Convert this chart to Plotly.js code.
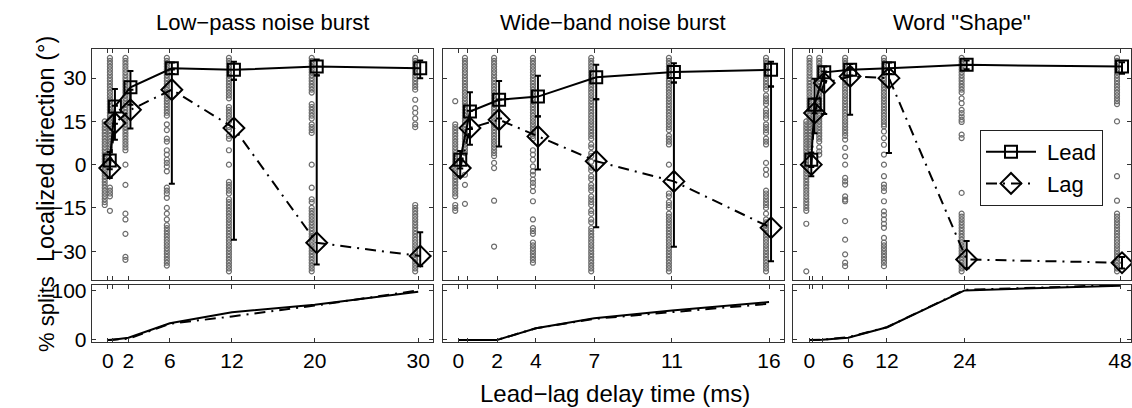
<!DOCTYPE html>
<html><head><meta charset="utf-8">
<script src="https://cdn.plot.ly/plotly-3.0.1.min.js"></script>
<style>html,body{margin:0;padding:0;background:#fff}#g{width:1132px;height:408px}</style>
</head><body><div id="g"></div>
<script>
// ---------- DATA ----------
const titles = ['Low\u2212pass noise burst', 'Wide\u2212band noise burst', 'Word "Shape"'];
const delays1 = [0, 0.5, 2, 6, 12, 20, 30];
const delays2 = [0, 0.5, 2, 4, 7, 11, 16];
const delays3 = [0, 0.5, 2, 6, 12, 24, 48];
const ticktext1 = ['0', '', '2', '6', '12', '20', '30'];
const ticktext2 = ['0', '', '2', '4', '7', '11', '16'];
const ticktext3 = ['0', '', '', '6', '12', '24', '48'];

// individual responses (deg), one list per delay
const p1_c0 = [15,14,13,12,11,10,9,8,7,6,5,4,3,2,1,0,-1,-2,-3,-4,-5,-6,-7,-8,-9,-10,-11,-12,-13,-14];
const p1_c1 = [37,36,35,34,33,32,31,30,29,28,27,26,25,24,23,22,21,20,19,18,17,16,15,14,13,12,11,10,9,8,7,6,5,4,-8,-9,-10,-11,-16];
const p1_c2 = [37,36,35,34,33,32,31,30,29,28,27,26,25,24,23,22,21,20,19,18,17,16,15,14,13,12,11,10,9,8,7,6,5,0,-7,-17,-19,-24,-32,-33];
const p1_c3 = [37,36,35,34,33,32,31,30,29,28,27,26,25,24,23,22,21,20,19,18,17,14,12,9,8,5,3.5,1.7,0.6,-0.6,-2.3,-8,-9,-10,-11.5,-15,-17,-19,-21,-22,-23,-24,-25,-26,-27,-28,-29,-30,-31,-32,-33,-34,-35];
const p1_c4 = [37,36,35,34,33,32,31,30,29,28,27,26,25,24,23,20,19,18,17,16,15,13,12,10,9,5,0,-6,-7,-8,-9,-10,-12,-13,-14,-15,-16,-17,-18,-19,-20,-21,-22,-23,-24,-25,-26,-27,-28,-29,-30,-31,-32,-33,-34,-35,-36,-37];
const p1_c5 = [37,36,35,34,33,32,31,30,29,28,27,26,25,21,20,19,18,17,16,14,13,12,11,0,-8,-12,-13,-15,-16,-17,-18,-19,-20,-21,-22,-23,-24,-25,-26,-27,-28,-29,-30,-31,-32,-33,-34,-35,-36,-37];
const p1_c6 = [37,36,35,34,33,32,31,30,29,28,27,26,22.5,19.6,18,16,14,13,-14,-15,-16,-17,-18,-19,-20,-21,-22,-23,-24,-25,-26,-27,-28,-29,-30,-31,-32,-33,-34,-35,-36,-37];

const p2_c0 = [22,14,13,12,11,10,9,8,7,6,5,4,3,2,1,0,-1,-2,-3,-4,-5,-6,-7,-8,-9,-10,-11,-14,-15,-16];
const p2_c1 = [37,36,35,34,33,32,31,30,29,28,27,26,25,24,23,22,21,20,19,18,17,16,15,14,13,12,11,10,9,8,7,6,5,4,-3.5,-7,-13.6];
const p2_c2 = [37,36,35,34,33,32,31,30,29,28,27,26,25,24,23,22,21,20,19,18,17,16,15,14,13,12,11,10,9,8,7,6,5,4,3,0.6,-1.2,-12.5,-28.4];
const p2_c3 = [37,36,35,34,33,32,31,30,29,28,27,26,25,24,23,22,21,20,19,18,17,16,15,14,13,12,11,10,9,5,3.5,1.7,-0.6,-2.3,-3.5,-5.2,-6.3,-7.5,-9.2,-12.7,-19,-22,-23,-24,-27,-28,-29,-30,-31,-32,-33,-34];
const p2_c4 = [37,36,35,34,33,32,31,30,29,28,27,26,25,24,23,22,21,20,19,18,17,16,15,14,13,12,11,10,9,7,6,4,3,1,-1,-2,-4,-5,-7,-8,-9,-11,-12,-13,-14,-16,-17,-19,-20,-22,-23,-24,-25,-26,-27,-28,-29,-30,-31,-32,-33,-34,-35,-36,-37];
const p2_c5 = [37,36,35,34,33,32,31,30,29,28,27,26,25,24,23,22,21,20,19,18,17,16,15,14,13,12,10,9,8,7,0,-10,-11,-13,-14,-15,-17,-18,-19,-20,-21,-22,-23,-24,-25,-26,-27,-28,-29,-30,-31,-32,-33,-34,-35,-36,-37];
const p2_c6 = [37,36,35,34,33,32,31,30,29,28,27,26,24,23,22,21,19,18,17,16,14,13,12,11,9,8,7,0.6,-1.7,-3.5,-9,-10,-11,-12,-13,-14,-15,-17,-19,-20,-21,-22,-23,-24,-25,-26,-27,-28,-29,-30,-31,-32,-33,-34,-35,-36,-37];

const p3_c0 = [15,14,13,12,11,10,9,8,7,6,5,4,3,2,1,0,-1,-2,-3,-4,-5,-6,-7,-8,-9,-10,-11,-12,-13,-14,-15,-16,-20.5,-37];
const p3_c1 = [37,36,35,34,33,32,31,30,29,28,27,26,25,24,23,22,21,20,19,18,17,16,15,14,13,12,11,10,9,8,7,6,5];
const p3_c2 = [37,36,35,34,33,32,31,30,29,28,27,26,25,24,23,22,21,20,19,18,17,16,15,14,13,12,11,10,9,8,6,4.6,3.5];
const p3_c3 = [37,36,35,34,33,32,31,30,29,28,27,26,25,24,23,22,21,20,19,18,17,16,15,14,13,12,11,10,8.7,5.8,2.9,0,-4.6,-5.8,-6.9,-11,-12.1,-12.7,-19.6,-26,-31.1,-34,-35.2];
const p3_c4 = [37,36,35,34,33,32,31,30,29,28,27,26,25,24,23,22,21,20,19,18,17,16,15,14,13.3,11.5,9.2,6.9,3.5,0,-4,-6.9,-8,-9.2,-12.7,-16.2,-17.5,-19,-20.5,-21.9,-25.4,-27,-28,-29,-30,-31,-32,-33,-34,-35.2];
const p3_c5 = [37,36,35,34,33,32,31,30,29,28,27,26,25,23,21.3,19,17.9,16.7,15.6,14.8,10.4,9.2,-9.8,-17,-18,-19,-20,-21,-22,-23,-24,-25,-26,-27,-28,-29,-30,-31,-32,-33,-34,-35,-36,-37];
const p3_c6 = [37,36,35,34,33,32,31,30,29,28,27,26,25,24,23,22,21,15,-4,-12.5,-17,-18,-19,-20,-21,-22,-23,-24,-25,-26,-27,-28,-29,-30,-31,-32,-33,-34,-35,-36,-37];

// mean localized direction and error bars
const lead1 = [1.4, 20.2, 26.8, 33.4, 32.9, 34.0, 33.4];
const lead1_up = [3, 6, 5.7, 2, 2.8, 2.5, 2.7];
const lead1_dn = [3, 6, 6, 2, 3.5, 3, 3.4];
const lag1 = [-1.2, 14.4, 19, 26, 12.7, -27.1, -31.7];
const lag1_up = [3, 6, 7, 7, 16.7, 58, 8.3];
const lag1_dn = [3.4, 5.8, 6.5, 32.6, 38.7, 7.5, 3.5];

const lead2 = [1.7, 18.4, 22.5, 23.6, 30.3, 32.1, 32.9];
const lead2_up = [3, 6.7, 6.5, 7.2, 4.3, 3.1, 2.8];
const lead2_dn = [3, 6, 6.5, 6.9, 7.6, 3.6, 5.8];
const lag2 = [-1.2, 12.7, 15.6, 9.8, 1.2, -5.8, -21.9];
const lag2_up = [3, 6, 7, 7, 21.5, 34.3, 49];
const lag2_dn = [2.8, 5.8, 9.3, 11.5, 22.9, 22.7, 11.6];

const lead3 = [1.7, 20.8, 32, 32.9, 33.4, 34.6, 34.0];
const lead3_up = [2.5, 9, 2, 2, 2, 1.5, 1.5];
const lead3_dn = [2.5, 3, 3, 2, 2, 1.5, 2.5];
const lag3 = [0, 17.9, 28.3, 30.6, 30, -32.9, -34.0];
const lag3_up = [3, 5, 4, 3, 3, 6.4, 2];
const lag3_dn = [4, 7, 10.7, 13.3, 26, 3, 2];

// % splits
const split_lead1 = [0, 0.5, 4.7, 34, 56.7, 71.7, 98.4];
const split_lag1 = [0, 0.5, 2.5, 33, 48, 70, 101];
const split_lead2 = [0, 0, 0, 24, 44.4, 60, 77.2];
const split_lag2 = [0, 0, 0, 24, 43, 56.7, 73.8];
const split_lead3 = [0, 0, 0.5, 4.7, 26, 101, 110.6];
const split_lag3 = [0, 0, 0.5, 5.5, 26, 102, 112];

// ---------- LAYOUT GEOMETRY ----------
const W = 1132, H = 408;
const FONT = 'Liberation Sans, Arial, Helvetica, sans-serif';
const colsPx = [[91.7, 432.7], [442.7, 784], [793.3, 1131]];
const xr = [[-1.55, 31.4], [-0.8, 16.77], [-2.47, 49.7]];
const topPx = [49.3, 280], botPx = [285, 341.7];
const dX = p => [p[0] / W, p[1] / W];
const dY = p => [1 - p[1] / H, 1 - p[0] / H];

const delays = [delays1, delays2, delays3];
const ticktexts = [ticktext1, ticktext2, ticktext3];
const cols = [[p1_c0,p1_c1,p1_c2,p1_c3,p1_c4,p1_c5,p1_c6],[p2_c0,p2_c1,p2_c2,p2_c3,p2_c4,p2_c5,p2_c6],[p3_c0,p3_c1,p3_c2,p3_c3,p3_c4,p3_c5,p3_c6]];
const leads = [[lead1,lead1_up,lead1_dn],[lead2,lead2_up,lead2_dn],[lead3,lead3_up,lead3_dn]];
const lags = [[lag1,lag1_up,lag1_dn],[lag2,lag2_up,lag2_dn],[lag3,lag3_up,lag3_dn]];
const splitsLead = [split_lead1, split_lead2, split_lead3];
const splitsLag = [split_lag1, split_lag2, split_lag3];

const DASHDOT = '11px,6px,2px,6px';
const traces = [];
const layout = {
  width: W, height: H, margin: {l:0, r:0, t:0, b:0},
  paper_bgcolor: '#fff', plot_bgcolor: '#fff', showlegend: true,
  font: {family: FONT, size: 20, color: '#000'},
  legend: {x: 980/W, y: 1 - 130/H, xanchor: 'left', yanchor: 'top', bgcolor: '#fff',
           bordercolor: '#222', borderwidth: 1, font: {family: FONT, size: 22, color:'#000'},
           itemwidth: 50, tracegroupgap: 0},
  annotations: [], shapes: []
};
const axBase = {showline: true, mirror: 'allticks', linecolor: '#333', linewidth: 1,
  ticks: 'inside', ticklen: 4, tickcolor: '#333', tickwidth: 1, showgrid: false, zeroline: false,
  fixedrange: true, tickfont: {family: FONT, size: 21, color: '#000'}};

for (let i = 0; i < 3; i++) {
  const t = 2*i + 1, b = 2*i + 2; // axis indices
  const xt = 'x' + (t === 1 ? '' : t), yt = 'y' + (t === 1 ? '' : t);
  const xb = 'x' + b, yb = 'y' + b;
  const pxPerUnit = (colsPx[i][1] - colsPx[i][0]) / (xr[i][1] - xr[i][0]);
  const sOff = -3 / pxPerUnit, mOff = 2 / pxPerUnit;

  layout['xaxis' + (t === 1 ? '' : t)] = Object.assign({}, axBase, {domain: dX(colsPx[i]), range: xr[i], anchor: yt,
    tickvals: delays[i], ticktext: ticktexts[i], showticklabels: false});
  layout['yaxis' + (t === 1 ? '' : t)] = Object.assign({}, axBase, {domain: dY(topPx), range: [-40, 40], anchor: xt,
    tickvals: [-30, -15, 0, 15, 30], showticklabels: i === 0});
  layout['xaxis' + b] = Object.assign({}, axBase, {domain: dX(colsPx[i]), range: xr[i], anchor: yb,
    tickvals: delays[i], ticktext: ticktexts[i], showticklabels: true});
  layout['yaxis' + b] = Object.assign({}, axBase, {domain: dY(botPx), range: [-3.5, 112], anchor: xb,
    tickvals: [0, 100], showticklabels: i === 0});

  // individual responses
  const sx = [], sy = [];
  cols[i].forEach((c, k) => c.forEach(v => { sx.push(delays[i][k] + sOff); sy.push(v); }));
  traces.push({type: 'scatter', mode: 'markers', x: sx, y: sy, xaxis: xt, yaxis: yt, showlegend: false,
    marker: {symbol: 'circle-open', size: 5, color: '#6c6c6c', line: {width: 1.2, color: '#6c6c6c'}}, hoverinfo: 'skip'});

  const mx = delays[i].map(d => d + mOff);
  traces.push({type: 'scatter', mode: 'lines+markers', name: '\u00a0Lead', x: mx, y: leads[i][0], xaxis: xt, yaxis: yt,
    showlegend: i === 2, legendgroup: 'lead',
    line: {color: '#000', width: 2},
    marker: {symbol: 'square-open', size: 12, color: '#000', line: {width: 2, color: '#000'}},
    error_y: {type: 'data', symmetric: false, array: leads[i][1], arrayminus: leads[i][2], color: '#000', thickness: 2, width: 3}});
  traces.push({type: 'scatter', mode: 'lines+markers', name: '\u00a0Lag', x: mx, y: lags[i][0], xaxis: xt, yaxis: yt,
    showlegend: i === 2, legendgroup: 'lag',
    line: {color: '#000', width: 2, dash: DASHDOT},
    marker: {symbol: 'diamond-open', size: 16, color: '#000', line: {width: 2, color: '#000'}},
    error_y: {type: 'data', symmetric: false, array: lags[i][1], arrayminus: lags[i][2], color: '#000', thickness: 2, width: 3}});

  // % splits
  traces.push({type: 'scatter', mode: 'lines', x: delays[i], y: splitsLead[i], xaxis: xb, yaxis: yb, showlegend: false,
    line: {color: '#000', width: 2}, hoverinfo: 'skip'});
  traces.push({type: 'scatter', mode: 'lines', x: delays[i], y: splitsLag[i], xaxis: xb, yaxis: yb, showlegend: false,
    line: {color: '#000', width: 2, dash: DASHDOT}, hoverinfo: 'skip'});

  layout.annotations.push({xref: 'paper', yref: 'paper', x: (colsPx[i][0] + colsPx[i][1]) / 2 / W, y: 1 - 22 / H,
    text: titles[i], showarrow: false, xanchor: 'center', yanchor: 'middle', font: {family: FONT, size: 22, color: '#000'}});
}
layout.annotations.push({xref: 'paper', yref: 'paper', x: 46 / W, y: 1 - 149 / H, text: 'Localized direction (\u00b0)',
  textangle: -90, showarrow: false, xanchor: 'center', yanchor: 'middle', font: {family: FONT, size: 23.5, color: '#000'}});
layout.annotations.push({xref: 'paper', yref: 'paper', x: 46 / W, y: 1 - 314 / H, text: '% splits',
  textangle: -90, showarrow: false, xanchor: 'center', yanchor: 'middle', font: {family: FONT, size: 22, color: '#000'}});
layout.annotations.push({xref: 'paper', yref: 'paper', x: 615 / W, y: 1 - 393 / H, text: 'Lead\u2212lag delay time (ms)',
  showarrow: false, xanchor: 'center', yanchor: 'middle', font: {family: FONT, size: 24, color: '#000'}});

Plotly.newPlot('g', traces, layout, {staticPlot: true, displayModeBar: false});
</script></body></html>
